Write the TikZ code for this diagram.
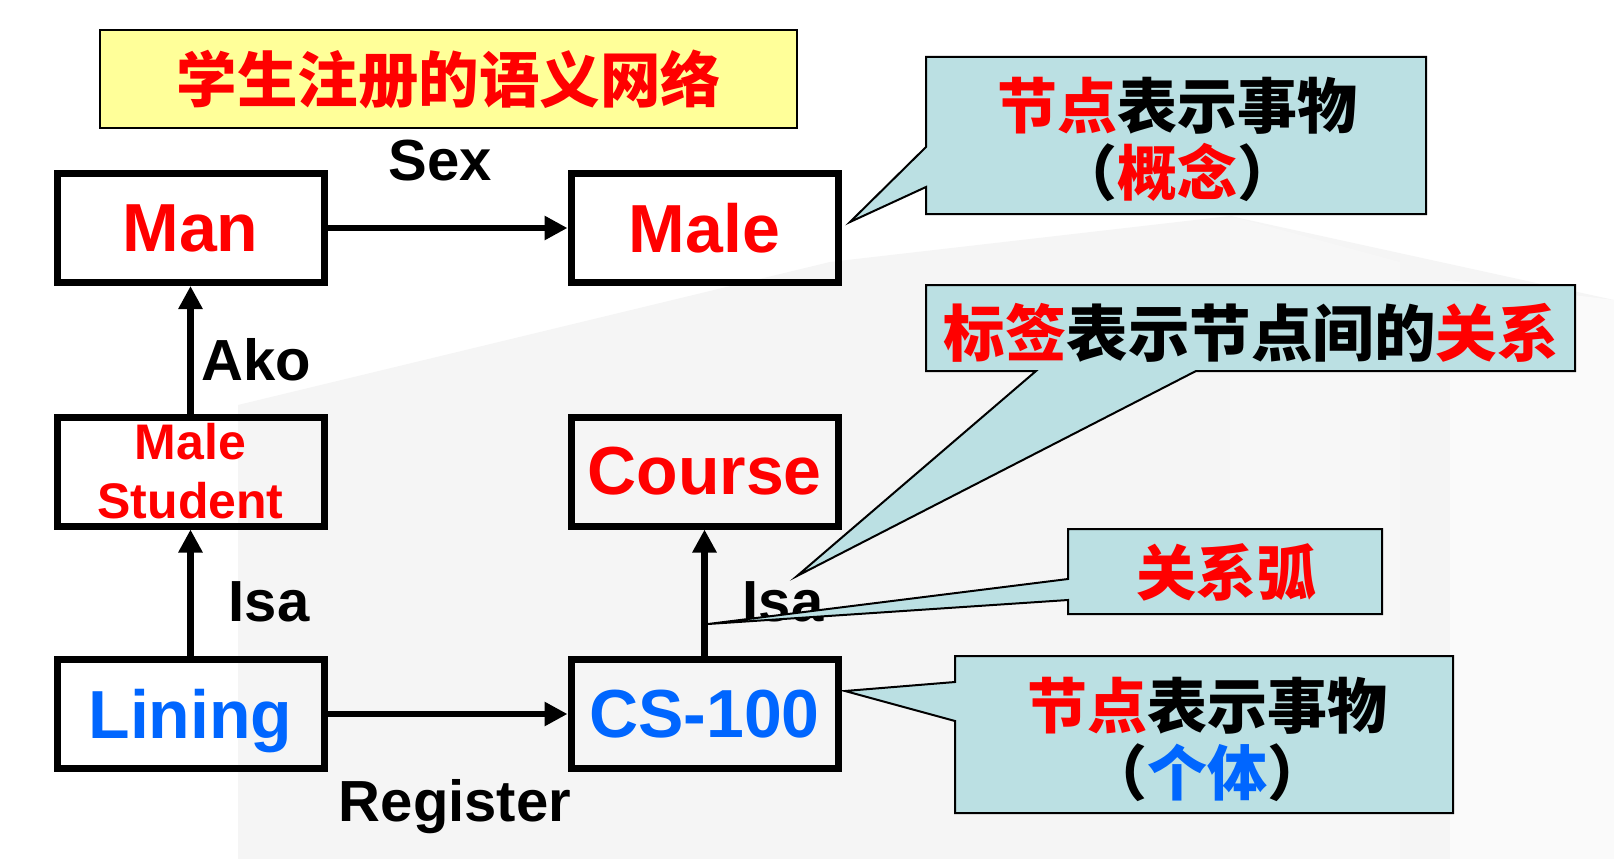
\documentclass[tikz,border=0pt]{standalone}
\usepackage{fontspec}
\setmainfont{Liberation Sans}
\newfontfamily\cjk{Noto Sans CJK SC}
\usetikzlibrary{arrows.meta}
\definecolor{myred}{RGB}{255,0,0}
\definecolor{myblue}{RGB}{0,102,255}
\definecolor{callfill}{RGB}{187,224,227}
\definecolor{titlefill}{RGB}{255,255,153}
\begin{document}
\begin{tikzpicture}[x=1pt,y=-1pt,
  concept/.style={draw=black, line width=7pt, minimum width=267pt, minimum height=109pt,
    inner sep=0pt, font=\bfseries\fontsize{68}{68}\selectfont, align=center},
  elabel/.style={anchor=base, inner sep=0pt, font=\bfseries\fontsize{58}{58}\selectfont},
  arr/.style={line width=6.5pt, -{Triangle[length=23pt,width=23pt]}},
  callout/.style={draw=black, line width=2pt, fill=callfill, line join=miter},
  ctext/.style={inner sep=0pt, align=center, font=\cjk\bfseries\fontsize{60}{67}\selectfont}]
\useasboundingbox (0,0) rectangle (1614,859);
\fill[white] (0,0) rectangle (1614,859);
% faint background building
\fill[black!4] (238,405) -- (830,262) -- (1230,216) -- (1614,300) -- (1614,859) -- (238,859) -- cycle;
\fill[black!3] (1230,216) -- (1400,262) -- (1400,859) -- (1230,859) -- cycle;
\fill[white, opacity=0.5] (1450,280) -- (1614,300) -- (1614,859) -- (1450,859) -- cycle;

% title
\node[draw=black, line width=2pt, fill=titlefill, minimum width=697pt, minimum height=98pt]
  (title) at (448.5,79) {};
\node[text=myred, font=\cjk\bfseries\fontsize{60.5}{60}\selectfont] (titletext) at (449,79) {学生注册的语义网络};

% concept boxes
\node[concept, text=myred] (man) at (190.5,228) {Man};
\node[concept, text=myred] (male) at (704.5,228) {Male};
\node[concept, text=myred, font=\bfseries\fontsize{50}{59}\selectfont] (ms) at (190.5,471.5) {Male\\Student};
\node[concept, text=myred] (course) at (704.5,471.5) {Course};
\node[concept, text=myblue, text depth=0pt] (lining) at (190.5,714) {Lining};
\node[concept, text=myblue] (cs) at (704.5,714) {CS-100};

% connectors
\draw[arr] (man) -- (male);
\draw[arr] (ms) -- (man);
\draw[arr] (lining) -- (ms);
\draw[arr] (cs) -- (course);
\draw[arr] (lining) -- (cs);

% edge labels
\node[elabel] (lsex) at (440,180) {Sex};
\node[elabel] (lako) at (256,380) {Ako};
\node[elabel] (lisa1) at (269,621) {Isa};
\node[elabel] (lisa2) at (783,621) {Isa};
\node[elabel] (lreg) at (455,821) {Register};

% callouts
\filldraw[callout] (926,57) -- (1426,57) -- (1426,214) -- (926,214) -- (926,187) -- (850,222) -- (926,147) -- cycle;
\node[ctext] (c1) at (1177,139) {{\color{myred}节点}表示事物\\（{\color{myred}概念}）};

\filldraw[callout] (926,285) -- (1575,285) -- (1575,371) -- (1196,371) -- (797,576) -- (1036,371) -- (926,371) -- cycle;
\node[ctext, font=\cjk\bfseries\fontsize{61.5}{67}\selectfont] (c2) at (1251,333) {{\color{myred}标签}表示节点间的{\color{myred}关系}};

\filldraw[callout] (1068,529) -- (1382,529) -- (1382,614) -- (1068,614) -- (1068,600) -- (708,624) -- (1068,579) -- cycle;
\node[ctext, text=myred] (c3) at (1226,572) {关系弧};

\filldraw[callout] (955,656) -- (1453,656) -- (1453,813) -- (955,813) -- (955,721) -- (845,691) -- (955,682) -- cycle;
\node[ctext] (c4) at (1207,739) {{\color{myred}节点}表示事物\\（{\color{myblue}个体}）};
\end{tikzpicture}
\end{document}
